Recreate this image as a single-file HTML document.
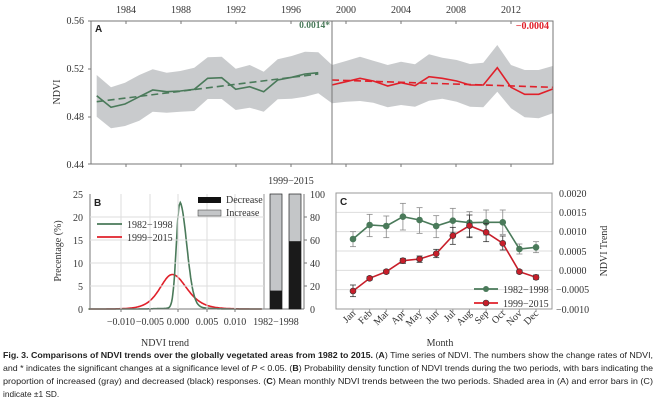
<!DOCTYPE html>
<html><head><meta charset="utf-8"><style>
html,body{margin:0;padding:0;background:#fff;width:656px;height:401px;overflow:hidden}
svg{display:block}
.t{font-family:"Liberation Serif",serif;font-size:10px;fill:#333}
.c{font-family:"Liberation Sans",sans-serif;font-size:8.3px;fill:#222}
</style></head><body>
<svg id="s" width="656" height="401" viewBox="0 0 656 401" xmlns="http://www.w3.org/2000/svg">
<!-- Panel A -->
<g id="A"></g>
<rect x="91" y="21" width="462" height="143" fill="none" stroke="#777" stroke-width="1"/>
<line x1="332" y1="21" x2="332" y2="164" stroke="#777"/>
<g class="t" text-anchor="end">
<text x="84" y="24">0.56</text><text x="84" y="72">0.52</text><text x="84" y="120">0.48</text><text x="84" y="168">0.44</text>
</g>
<g stroke="#777"><line x1="88" y1="21" x2="91" y2="21"/><line x1="88" y1="69" x2="91" y2="69"/><line x1="88" y1="117" x2="91" y2="117"/><line x1="88" y1="164" x2="91" y2="164"/></g>
<g class="t" text-anchor="middle">
<text x="126" y="13">1984</text><text x="181" y="13">1988</text><text x="236" y="13">1992</text><text x="291" y="13">1996</text>
<text x="346" y="13">2000</text><text x="401" y="13">2004</text><text x="456" y="13">2008</text><text x="511" y="13">2012</text>
</g>
<g id="ticksA" stroke="#777"></g>
<text class="t" transform="translate(60,92) rotate(-90)" text-anchor="middle">NDVI</text>
<text x="95" y="32" font-family="Liberation Sans,sans-serif" font-weight="bold" font-size="10" fill="#222">A</text>
<text x="330" y="28" text-anchor="end" font-family="Liberation Serif,serif" font-weight="bold" font-size="9.5" fill="#4a7a5a">0.0014*</text>
<text x="549" y="29" text-anchor="end" font-family="Liberation Serif,serif" font-weight="bold" font-size="10" fill="#e0202a">−0.0004</text>

<!-- Panel B -->
<g id="B"></g>
<line x1="90" y1="194" x2="90" y2="309" stroke="#777"/>
<line x1="90" y1="309" x2="304" y2="309" stroke="#777"/>
<line x1="264" y1="194" x2="264" y2="309" stroke="#999"/>
<line x1="304" y1="194" x2="304" y2="309" stroke="#777"/>
<g id="gridB" stroke="#ddd"></g>
<g class="t" text-anchor="end">
<text x="83" y="198">25</text><text x="83" y="221">20</text><text x="83" y="244">15</text><text x="83" y="267">10</text><text x="83" y="290">5</text><text x="83" y="313">0</text>
</g>
<g class="t" text-anchor="middle">
<text x="121" y="325">−0.010</text><text x="150" y="325">−0.005</text><text x="178" y="325">0.000</text><text x="207" y="325">0.005</text><text x="235" y="325">0.010</text>
<text x="276" y="325">1982−1998</text><text x="291" y="184">1999−2015</text>
<text x="165" y="346">NDVI trend</text>
</g>
<text class="t" transform="translate(61,251) rotate(-90)" text-anchor="middle">Precentage (%)</text>
<text x="94" y="206" font-family="Liberation Sans,sans-serif" font-weight="bold" font-size="10" fill="#222">B</text>
<line x1="97" y1="224" x2="122" y2="224" stroke="#4a7a5a" stroke-width="1.8"/>
<line x1="97" y1="237" x2="122" y2="237" stroke="#e0202a" stroke-width="1.8"/>
<text class="t" x="127" y="228">1982−1998</text><text class="t" x="127" y="241">1999−2015</text>
<rect x="198" y="197" width="23" height="6" fill="#111"/>
<rect x="198" y="210" width="23" height="6" fill="#c4c6c8" stroke="#333" stroke-width=".5"/>
<text class="t" x="226" y="203">Decrease</text><text class="t" x="226" y="216">Increase</text>
<rect x="270" y="194" width="12" height="115" fill="#c4c6c8" stroke="#222" stroke-width=".7"/>
<rect x="270" y="290.6" width="12" height="18.4" fill="#1a1a1a"/>
<rect x="289" y="194" width="12" height="115" fill="#c4c6c8" stroke="#222" stroke-width=".7"/>
<rect x="289" y="241.2" width="12" height="67.8" fill="#1a1a1a"/>
<g class="t">
<text x="310" y="198">100</text><text x="310" y="221">80</text><text x="310" y="244">60</text><text x="310" y="267">40</text><text x="310" y="290">20</text><text x="310" y="313">0</text>
</g>
<g stroke="#777"><line x1="304" y1="217" x2="307" y2="217"/><line x1="304" y1="240" x2="307" y2="240"/><line x1="304" y1="263" x2="307" y2="263"/><line x1="304" y1="286" x2="307" y2="286"/></g>

<!-- Panel C -->
<g id="C"></g>
<text x="340" y="205" font-family="Liberation Sans,sans-serif" font-weight="bold" font-size="10" fill="#222">C</text>
<g class="t">
<text x="559" y="197">0.0020</text><text x="559" y="216">0.0015</text><text x="559" y="235">0.0010</text><text x="559" y="255">0.0005</text><text x="559" y="274">0.0000</text><text x="556" y="293">−0.0005</text><text x="556" y="313">−0.0010</text>
</g>
<text class="t" transform="translate(607,251) rotate(-90)" text-anchor="middle">NDVI Trend</text>
<text class="t" x="440" y="346" text-anchor="middle">Month</text>
<line x1="474" y1="289" x2="498" y2="289" stroke="#4a7a5a" stroke-width="1.8"/><circle cx="486" cy="289" r="3" fill="#4a7a5a"/>
<line x1="474" y1="303" x2="498" y2="303" stroke="#e0202a" stroke-width="1.8"/><circle cx="486" cy="303" r="3" fill="#c81e2a" stroke="#333" stroke-width=".6"/>
<text class="t" x="503" y="293">1982−1998</text><text class="t" x="503" y="307">1999−2015</text>

<!-- Caption -->
<text class="c" x="3" y="358" textLength="650" lengthAdjust="spacingAndGlyphs"><tspan font-weight="bold">Fig. 3. Comparisons of NDVI trends over the globally vegetated areas from 1982 to 2015.</tspan> (<tspan font-weight="bold">A</tspan>) Time series of NDVI. The numbers show the change rates of NDVI,</text>
<text class="c" x="3" y="371" textLength="650" lengthAdjust="spacingAndGlyphs">and * indicates the significant changes at a significance level of <tspan font-style="italic">P</tspan> &lt; 0.05. (<tspan font-weight="bold">B</tspan>) Probability density function of NDVI trends during the two periods, with bars indicating the</text>
<text class="c" x="3" y="384" textLength="650" lengthAdjust="spacingAndGlyphs">proportion of increased (gray) and decreased (black) responses. (<tspan font-weight="bold">C</tspan>) Mean monthly NDVI trends between the two periods. Shaded area in (A) and error bars in (C)</text>
<text class="c" x="3" y="397">indicate ±1 SD.</text>
</svg>
<script>
var NS="http://www.w3.org/2000/svg";
function el(p,t,a){var e=document.createElementNS(NS,t);for(var k in a)e.setAttribute(k,a[k]);document.getElementById(p).appendChild(e);return e;}
function pts(arr,ox,oy){return arr.map(function(p){return ((ox+p[0]/3).toFixed(1))+","+((oy+p[1]/3).toFixed(1));}).join(" ");}
// Panel A band
var upL=[[290,225],[333,262],[375,248],[418,225],[458,208],[500,218],[541,213],[583,203],[623,172],[665,170],[707,206],[749,195],[791,215],[833,178],[875,168],[915,155],[955,157],[996,195]];
var upR=[[78,183],[120,170],[160,182],[203,195],[243,185],[285,193],[327,163],[367,173],[410,180],[450,192],[490,188],[532,135],[573,195],[614,210],[656,210],[698,198]];
var loL=[[290,350],[333,385],[375,378],[418,362],[458,335],[500,338],[541,335],[583,333],[623,297],[665,297],[707,330],[749,323],[791,335],[833,298],[875,296],[915,290],[955,280],[996,310]];
var loR=[[78,305],[120,303],[160,308],[203,322],[243,315],[285,320],[327,302],[367,296],[410,305],[450,320],[490,322],[532,275],[573,325],[614,352],[656,355],[698,340]];
var up=upL.map(function(p){return [p[0]/3,p[1]/3]}).concat(upR.map(function(p){return [320+p[0]/3,p[1]/3]}));
var lo=loL.map(function(p){return [p[0]/3,p[1]/3]}).concat(loR.map(function(p){return [320+p[0]/3,p[1]/3]}));
var poly=up.concat(lo.reverse()).map(function(p){return p[0].toFixed(1)+","+p[1].toFixed(1)}).join(" ");
el("A","polygon",{points:poly,fill:"#c9cbcd"});
var g=[[290,287],[333,322],[375,312],[418,290],[458,270],[500,275],[541,273],[583,268],[623,235],[665,233],[707,268],[749,260],[791,275],[833,240],[875,232],[915,222],[955,218]];
el("A","polyline",{points:pts(g,0,0),fill:"none",stroke:"#4a7a5a","stroke-width":1.6});
el("A","line",{x1:96.7,y1:101.7,x2:318.3,y2:74,stroke:"#4a7a5a","stroke-width":1.6,"stroke-dasharray":"7,4"});
var r=[[35,255],[78,245],[120,235],[160,243],[203,258],[243,248],[285,257],[327,230],[367,235],[410,243],[450,255],[490,255],[532,203],[573,262],[614,283],[656,283],[698,267]];
el("A","polyline",{points:pts(r,320,0),fill:"none",stroke:"#e0202a","stroke-width":1.6});
el("A","line",{x1:332,y1:80,x2:553,y2:87.3,stroke:"#e0202a","stroke-width":1.6,"stroke-dasharray":"7,4"});
[126,181,236,291,346,401,456,511].forEach(function(x){el("ticksA","line",{x1:x,y1:21,x2:x,y2:24});el("ticksA","line",{x1:x,y1:164,x2:x,y2:167});});
// Panel B
[121,150,178,207,235].forEach(function(x){el("gridB","line",{x1:x,y1:194,x2:x,y2:309});el("gridB","line",{x1:x,y1:309,x2:x,y2:312,stroke:"#777"});});
[217,240,263,286].forEach(function(y){el("gridB","line",{x1:90,y1:y,x2:264,y2:y});});
function X(v){return 178+v/0.005*28.7;} function Y(p){return 309-p/25*115;}
function sech(x){return 2/(Math.exp(x)+Math.exp(-x));}
var gp=[],rp=[];
for(var v=-0.0156;v<=0.0146;v+=0.0001){
 var d=v-0.0003, s=d<0?0.0006:0.0012;
 var gv=22.6*Math.exp(-0.5*(d/s)*(d/s)) + 0.6*Math.exp(-0.5*Math.pow(d/0.003,2))*(d>0?1:0.3);
 gp.push(X(v).toFixed(1)+","+Y(gv).toFixed(1));
 var dr=v+0.001, sr=dr<0?0.0029:0.0034, q=sech(dr/sr);
 rp.push(X(v).toFixed(1)+","+Y(7.5*q*q).toFixed(1));
}
el("B","polyline",{points:rp.join(" "),fill:"none",stroke:"#e0202a","stroke-width":1.6});
el("B","polyline",{points:gp.join(" "),fill:"none",stroke:"#4a7a5a","stroke-width":1.6});
// Panel C
var CX=function(i){return 353+i*16.64;};
for(var k=0;k<7;k++){var y=193+k*19.33;el("C","line",{x1:336,y1:y,x2:552,y2:y,stroke:"#ddd"});}
el("C","rect",{x:336,y:193,width:216,height:116,fill:"none",stroke:"#999"});
var months=["Jan","Feb","Mar","Apr","May","Jun","Jul","Aug","Sep","Oct","Nov","Dec"];
months.forEach(function(m,i){var t=el("C","text",{"class":"t",transform:"translate("+(CX(i)+3)+",314) rotate(-45)","text-anchor":"end"});t.textContent=m;el("C","line",{x1:CX(i),y1:309,x2:CX(i),y2:312,stroke:"#999"});});
var gy=[192,150,153,125,135,153,137,143,142,142,222,217];
var ge=[[170,215],[118,185],[123,188],[85,165],[98,175],[122,188],[100,172],[110,185],[105,180],[105,178],[207,237],[200,233]];
var ry=[348,310,290,257,252,236,182,152,172,205,290,307];
var re=[[330,365],[305,315],[285,295],[250,265],[243,262],[223,248],[157,208],[120,188],[145,200],[183,225],[285,295],[300,313]];
function series(yv,ev,col,ecol,stroke){
 ev.forEach(function(e,i){var x=CX(i),a=175+e[0]/3,b=175+e[1]/3;
  el("C","line",{x1:x,y1:a,x2:x,y2:b,stroke:ecol,"stroke-width":.8});
  el("C","line",{x1:x-3,y1:a,x2:x+3,y2:a,stroke:ecol,"stroke-width":.8});
  el("C","line",{x1:x-3,y1:b,x2:x+3,y2:b,stroke:ecol,"stroke-width":.8});});
 el("C","polyline",{points:yv.map(function(y,i){return CX(i).toFixed(1)+","+(175+y/3).toFixed(1)}).join(" "),fill:"none",stroke:col,"stroke-width":1.6});
 yv.forEach(function(y,i){el("C","circle",{cx:CX(i),cy:175+y/3,r:3,fill:col,stroke:stroke,"stroke-width":.6});});
}
series(gy,ge,"#4a7a5a","#888","#4a7a5a");
series(ry,re,"#c81e2a","#333","#333");
</script>
</body></html>
